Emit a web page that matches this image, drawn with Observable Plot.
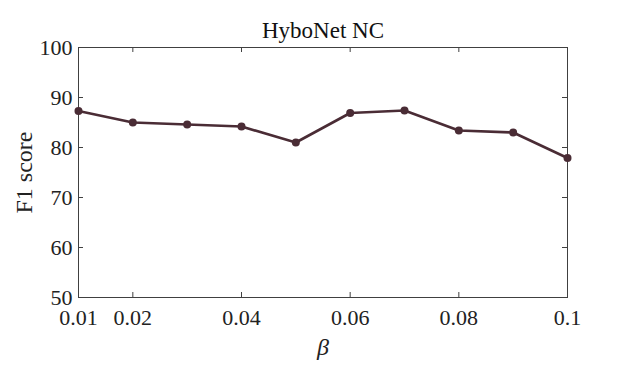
<!DOCTYPE html>
<html>
<head>
<meta charset="utf-8">
<script src="https://cdn.jsdelivr.net/npm/d3@7"></script>
<script src="https://cdn.jsdelivr.net/npm/@observablehq/plot@0.6"></script>
<style>
  html, body { margin: 0; padding: 0; background: #fff; }
  svg { font-family: "Liberation Serif", "Times New Roman", serif; }
</style>
</head>
<body>
<div id="chart"></div>
<script>
const beta = [0.01, 0.02, 0.03, 0.04, 0.05, 0.06, 0.07, 0.08, 0.09, 0.1];
const f1 = [87.3, 85.0, 84.6, 84.2, 81.0, 86.9, 87.4, 83.4, 83.0, 77.9];
const xTicks = [0.01, 0.02, 0.04, 0.06, 0.08, 0.1];
const xTickLabels = ["0.01", "0.02", "0.04", "0.06", "0.08", "0.1"];
const yTicks = [50, 60, 70, 80, 90, 100];
const title = "HyboNet NC";
const xLabel = "β";
const yLabel = "F1 score";

const data = beta.map((b, i) => ({beta: b, f1: f1[i]}));

const W = 623, H = 371;
const mL = 78, mR = 56, mT = 47, mB = 74;
const fw = W - mL - mR, fh = H - mT - mB;
const axisColor = "#404040";
const lineColor = "#4a2c35";

const chart = Plot.plot({
  width: W,
  height: H,
  marginLeft: mL,
  marginRight: mR,
  marginTop: mT,
  marginBottom: mB,
  style: {fontFamily: "'Liberation Serif', serif", fontSize: "22px", color: "#222", background: "#fff"},
  x: {domain: [0.01, 0.1]},
  y: {domain: [50, 100]},
  marks: [
    Plot.frame({stroke: axisColor, strokeWidth: 1}),
    Plot.tickX(xTicks, {x: d => d, stroke: axisColor, insetTop: fh - 5}),
    Plot.tickX(xTicks, {x: d => d, stroke: axisColor, insetBottom: fh - 5}),
    Plot.tickY(yTicks, {y: d => d, stroke: axisColor, insetRight: fw - 5}),
    Plot.tickY(yTicks, {y: d => d, stroke: axisColor, insetLeft: fw - 5}),
    Plot.axisX(xTicks, {tickSize: 0, tickPadding: 12, tickFormat: (d, i) => xTickLabels[i], fontSize: 22, fill: "#222", label: null}),
    Plot.axisY(yTicks, {tickSize: 0, tickPadding: 6, fontSize: 22, fill: "#222", label: null}),
    Plot.line(data, {x: "beta", y: "f1", stroke: lineColor, strokeWidth: 2.6}),
    Plot.dot(data, {x: "beta", y: "f1", fill: lineColor, r: 4, stroke: "none"}),
    Plot.text([title], {frameAnchor: "top", dy: -17, lineAnchor: "middle", textAnchor: "middle", fontSize: 23, fill: "#111"}),
    Plot.text([yLabel], {frameAnchor: "left", dx: -54, rotate: -90, lineAnchor: "middle", textAnchor: "middle", fontSize: 24, fill: "#222"}),
    Plot.text([xLabel], {frameAnchor: "bottom", dy: 50, lineAnchor: "middle", textAnchor: "middle", fontSize: 24, fontStyle: "italic", fill: "#222"})
  ]
});
document.getElementById("chart").appendChild(chart);
</script>
</body>
</html>
